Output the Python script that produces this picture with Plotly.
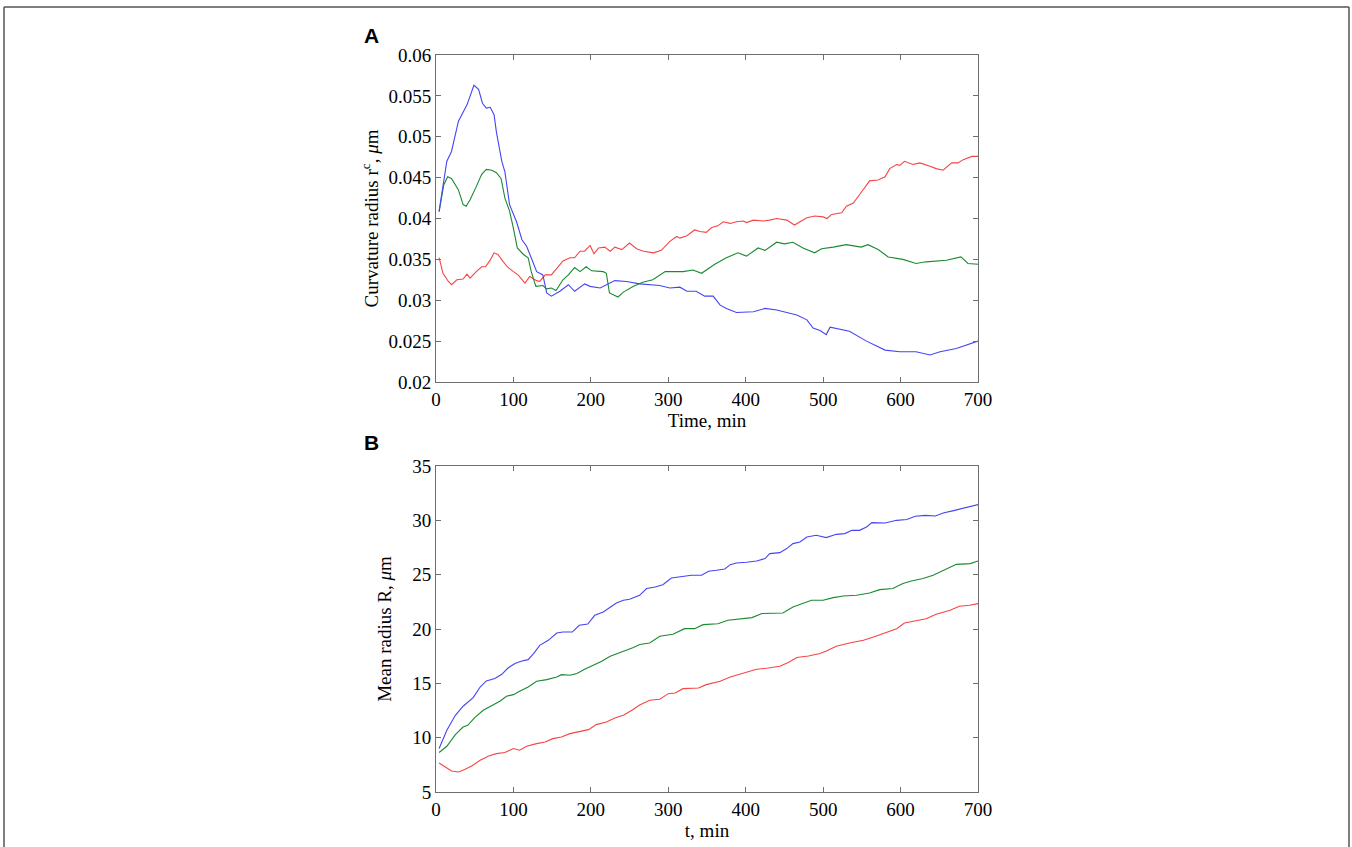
import plotly.graph_objects as go

# ---------------- Panel A: curvature radius r^c (um) vs time (min) ----------------
a_blue_t = [4, 14, 20, 29, 40, 49, 55, 60, 65, 70, 75, 78, 85, 89, 95, 104, 111, 117, 123, 130,
            138, 143, 149, 160, 171, 179, 192, 199, 212, 231, 246, 263, 289, 302, 315, 324, 336,
            347, 358, 367, 375, 388, 410, 425, 440, 466, 479, 487, 496, 504, 509, 534, 556, 580,
            599, 620, 638, 651, 672, 700]
a_blue_v = [0.0409, 0.0470, 0.0482, 0.0519, 0.0539, 0.0563, 0.0558, 0.0541, 0.0535, 0.0536,
            0.0527, 0.0506, 0.0470, 0.0457, 0.0417, 0.0396, 0.0374, 0.0366, 0.0352, 0.0335,
            0.0331, 0.0309, 0.0305, 0.0311, 0.0319, 0.0311, 0.0320, 0.0317, 0.0315, 0.0324,
            0.0323, 0.0320, 0.0318, 0.0315, 0.0316, 0.0311, 0.0311, 0.0305, 0.0305, 0.0294,
            0.0290, 0.0285, 0.0286, 0.0290, 0.0288, 0.0282, 0.0276, 0.0266, 0.0263, 0.0258,
            0.0267, 0.0262, 0.0250, 0.0239, 0.0237, 0.0237, 0.0233, 0.0237, 0.0241, 0.0250]

a_green_t = [4, 10, 15, 20, 29, 35, 39, 44, 52, 59, 65, 72, 78, 84, 89, 95, 100, 105, 113, 119,
             123, 129, 138, 143, 149, 155, 164, 171, 179, 186, 194, 201, 216, 220, 224, 235, 242,
             255, 267, 280, 296, 319, 332, 343, 360, 375, 390, 401, 416, 425, 440, 450, 461, 474,
             489, 498, 513, 530, 549, 558, 571, 584, 603, 620, 633, 659, 678, 687, 700]
a_green_v = [0.0408, 0.0441, 0.0451, 0.0449, 0.0435, 0.0417, 0.0415, 0.0423, 0.0439, 0.0454,
             0.0460, 0.0459, 0.0456, 0.0449, 0.0425, 0.0409, 0.0388, 0.0364, 0.0356, 0.0352,
             0.0335, 0.0317, 0.0318, 0.0314, 0.0315, 0.0312, 0.0325, 0.0331, 0.0340, 0.0335,
             0.0341, 0.0336, 0.0335, 0.0333, 0.0309, 0.0304, 0.0310, 0.0317, 0.0322, 0.0325,
             0.0335, 0.0335, 0.0337, 0.0333, 0.0344, 0.0352, 0.0358, 0.0354, 0.0364, 0.0361,
             0.0371, 0.0369, 0.0371, 0.0364, 0.0358, 0.0363, 0.0365, 0.0368, 0.0365, 0.0368,
             0.0362, 0.0353, 0.0350, 0.0345, 0.0347, 0.0349, 0.0353, 0.0345, 0.0344]

a_red_t = [4, 9, 16, 20, 27, 35, 40, 44, 52, 59, 64, 70, 75, 80, 87, 92, 100, 106, 115, 121,
           130, 134, 141, 149, 156, 164, 173, 179, 186, 192, 199, 204, 210, 218, 225, 231, 240,
           250, 259, 268, 281, 291, 302, 311, 315, 324, 334, 341, 349, 356, 364, 371, 380, 388,
           397, 401, 410, 423, 431, 440, 453, 463, 479, 489, 500, 505, 511, 524, 530, 539, 550,
           560, 571, 580, 586, 595, 599, 605, 616, 625, 638, 646, 655, 666, 674, 681, 692, 700]
a_red_v = [0.0352, 0.0333, 0.0323, 0.0319, 0.0325, 0.0326, 0.0332, 0.0327, 0.0335, 0.0341,
           0.0341, 0.0349, 0.0358, 0.0356, 0.0347, 0.0341, 0.0335, 0.0331, 0.0321, 0.0329,
           0.0324, 0.0323, 0.0331, 0.0331, 0.0339, 0.0348, 0.0352, 0.0352, 0.0360, 0.0360,
           0.0367, 0.0357, 0.0364, 0.0365, 0.0360, 0.0365, 0.0362, 0.0370, 0.0363, 0.0360,
           0.0358, 0.0361, 0.0372, 0.0378, 0.0376, 0.0379, 0.0386, 0.0384, 0.0383, 0.0389,
           0.0391, 0.0396, 0.0394, 0.0396, 0.0397, 0.0395, 0.0398, 0.0397, 0.0398, 0.0400,
           0.0398, 0.0392, 0.0401, 0.0403, 0.0402, 0.0400, 0.0405, 0.0407, 0.0415, 0.0419,
           0.0433, 0.0446, 0.0447, 0.0451, 0.0461, 0.0466, 0.0465, 0.0470, 0.0466, 0.0468,
           0.0464, 0.0461, 0.0459, 0.0468, 0.0468, 0.0472, 0.0476, 0.0476]

# ---------------- Panel B: mean radius R (um) vs t (min) ----------------
b_blue_t = [4, 14, 25, 35, 48, 57, 65, 76, 85, 93, 102, 111, 119, 126, 134, 145, 156, 164, 176,
            185, 196, 205, 216, 225, 233, 242, 250, 263, 272, 283, 293, 304, 317, 330, 343, 352,
            362, 373, 380, 388, 401, 414, 425, 431, 444, 453, 461, 470, 479, 491, 504, 517, 528,
            537, 547, 556, 563, 580, 595, 608, 619, 632, 645, 655, 670, 683, 700]
b_blue_v = [9.0, 10.68, 12.06, 12.89, 13.69, 14.66, 15.22, 15.44, 15.83, 16.41, 16.82, 17.06,
            17.18, 17.74, 18.50, 18.96, 19.63, 19.72, 19.72, 20.34, 20.46, 21.26, 21.57, 21.97,
            22.39, 22.64, 22.73, 23.10, 23.72, 23.87, 24.08, 24.69, 24.85, 24.94, 24.94, 25.31,
            25.40, 25.52, 25.92, 26.07, 26.14, 26.26, 26.48, 26.94, 27.03, 27.40, 27.86, 28.01,
            28.47, 28.62, 28.41, 28.71, 28.78, 29.08, 29.08, 29.39, 29.79, 29.76, 30.0, 30.07,
            30.37, 30.46, 30.40, 30.67, 30.92, 31.17, 31.45]

b_green_t = [4, 14, 25, 35, 41, 50, 61, 72, 83, 91, 100, 108, 119, 130, 143, 156, 162, 173, 182,
             192, 203, 214, 225, 235, 244, 255, 263, 276, 289, 306, 321, 334, 345, 364, 377, 395,
             408, 421, 433, 448, 461, 474, 485, 500, 513, 526, 543, 560, 573, 590, 603, 614, 629,
             642, 657, 672, 690, 700]
b_green_v = [8.63, 9.21, 10.28, 10.98, 11.14, 11.85, 12.52, 12.98, 13.38, 13.81, 13.96, 14.27,
             14.66, 15.19, 15.34, 15.58, 15.80, 15.74, 15.90, 16.29, 16.66, 17.03, 17.49, 17.74,
             17.98, 18.29, 18.57, 18.71, 19.33, 19.51, 20.03, 20.03, 20.40, 20.49, 20.80, 20.95,
             21.05, 21.42, 21.47, 21.47, 22.03, 22.34, 22.64, 22.64, 22.89, 23.04, 23.10, 23.31,
             23.62, 23.72, 24.18, 24.42, 24.64, 24.94, 25.46, 25.95, 26.02, 26.26]

b_red_t = [4, 12, 20, 29, 37, 46, 57, 68, 78, 89, 100, 108, 117, 130, 141, 151, 162, 173, 186,
           197, 207, 220, 231, 242, 253, 263, 276, 289, 300, 309, 319, 339, 349, 367, 380, 397,
           414, 429, 444, 455, 466, 481, 496, 504, 517, 534, 552, 565, 580, 595, 605, 621, 633,
           646, 664, 676, 689, 700]
b_red_v = [7.67, 7.30, 6.93, 6.84, 7.06, 7.39, 7.92, 8.31, 8.53, 8.63, 9.00, 8.84, 9.21, 9.45,
           9.60, 9.91, 10.06, 10.37, 10.59, 10.74, 11.20, 11.44, 11.81, 12.06, 12.52, 13.0, 13.44,
           13.53, 14.05, 14.11, 14.51, 14.57, 14.88, 15.19, 15.58, 15.90, 16.29, 16.41, 16.57,
           16.91, 17.37, 17.52, 17.74, 17.98, 18.41, 18.71, 18.96, 19.26, 19.63, 20.03, 20.55,
           20.80, 20.95, 21.35, 21.72, 22.09, 22.18, 22.34]

# ---------------- tick labels ----------------
x_ticks = [0, 100, 200, 300, 400, 500, 600, 700]
x_ticklabels = ["0", "100", "200", "300", "400", "500", "600", "700"]
a_yticks = [0.02, 0.025, 0.03, 0.035, 0.04, 0.045, 0.05, 0.055, 0.06]
a_yticklabels = ["0.02", "0.025", "0.03", "0.035", "0.04", "0.045", "0.05", "0.055", "0.06"]
b_yticks = [5, 10, 15, 20, 25, 30, 35]
b_yticklabels = ["5", "10", "15", "20", "25", "30", "35"]

BLUE = "#4545f5"
GREEN = "#1a8a30"
RED = "#f54545"

fig = go.Figure()

def line(x, y, color, xa, ya):
    fig.add_trace(go.Scatter(x=x, y=y, mode="lines", xaxis=xa, yaxis=ya,
                             line=dict(color=color, width=1.1), showlegend=False,
                             hoverinfo="skip"))

line(a_red_t, a_red_v, RED, "x", "y")
line(a_green_t, a_green_v, GREEN, "x", "y")
line(a_blue_t, a_blue_v, BLUE, "x", "y")
line(b_red_t, b_red_v, RED, "x2", "y2")
line(b_green_t, b_green_v, GREEN, "x2", "y2")
line(b_blue_t, b_blue_v, BLUE, "x2", "y2")

W, H = 1352, 847
serif = "Liberation Serif, Times New Roman, serif"
AX = "#6e6e6e"

def px(x):
    return x / W

def py(y):
    return 1 - y / H

def xdom():
    return [px(436), px(978)]

def ydom(top, bottom):
    return [py(bottom), py(top)]

common = dict(showline=True, mirror="ticks", linecolor=AX, linewidth=1, ticks="inside",
              ticklen=5, tickcolor=AX, tickwidth=1, showgrid=False, zeroline=False,
              automargin=False,
              tickfont=dict(family=serif, size=19, color="black"))

title_font = dict(family=serif, size=19, color="black")

fig.update_layout(
    width=W, height=H,
    margin=dict(l=0, r=0, t=0, b=0, pad=0, autoexpand=False),
    paper_bgcolor="white", plot_bgcolor="white",
    xaxis=dict(domain=xdom(), anchor="y", range=[0, 700], tickvals=x_ticks,
               ticktext=x_ticklabels,
               title=dict(text="Time, min", font=title_font, standoff=2), **common),
    yaxis=dict(domain=ydom(55, 382), anchor="x", range=[0.02, 0.06], tickvals=a_yticks,
               ticktext=a_yticklabels,
               title=dict(text="Curvature radius r<sup>c</sup>, <i>μ</i>m",
                          font=title_font, standoff=4),
               **common),
    xaxis2=dict(domain=xdom(), anchor="y2", range=[0, 700], tickvals=x_ticks,
                ticktext=x_ticklabels,
                title=dict(text="t, min", font=title_font, standoff=4), **common),
    yaxis2=dict(domain=ydom(466, 792), anchor="x2", range=[5, 35], tickvals=b_yticks,
                ticktext=b_yticklabels,
                title=dict(text="Mean radius R, <i>μ</i>m", font=title_font, standoff=15),
                **common),
    shapes=[
        dict(type="line", xref="paper", yref="paper", x0=px(4), x1=px(1349),
             y0=py(7), y1=py(7), line=dict(color="#555555", width=1.5)),
        dict(type="line", xref="paper", yref="paper", x0=px(4), x1=px(4),
             y0=py(7), y1=0, line=dict(color="#555555", width=1.5)),
        dict(type="line", xref="paper", yref="paper", x0=px(1349), x1=px(1349),
             y0=py(7), y1=0, line=dict(color="#555555", width=1.5)),
    ],
    annotations=[
        dict(text="<b>A</b>", x=px(362), y=py(35.5), xref="paper", yref="paper",
             xanchor="left", yanchor="middle", showarrow=False,
             font=dict(family="Liberation Sans, Arial, sans-serif", size=21, color="black")),
        dict(text="<b>B</b>", x=px(362), y=py(442), xref="paper", yref="paper",
             xanchor="left", yanchor="middle", showarrow=False,
             font=dict(family="Liberation Sans, Arial, sans-serif", size=21, color="black")),
    ],
)

fig.write_html("out.html",
               config={"displayModeBar": False, "staticPlot": True},
               post_script="document.body.style.margin='0';"
                           "document.body.style.overflow='hidden';")
